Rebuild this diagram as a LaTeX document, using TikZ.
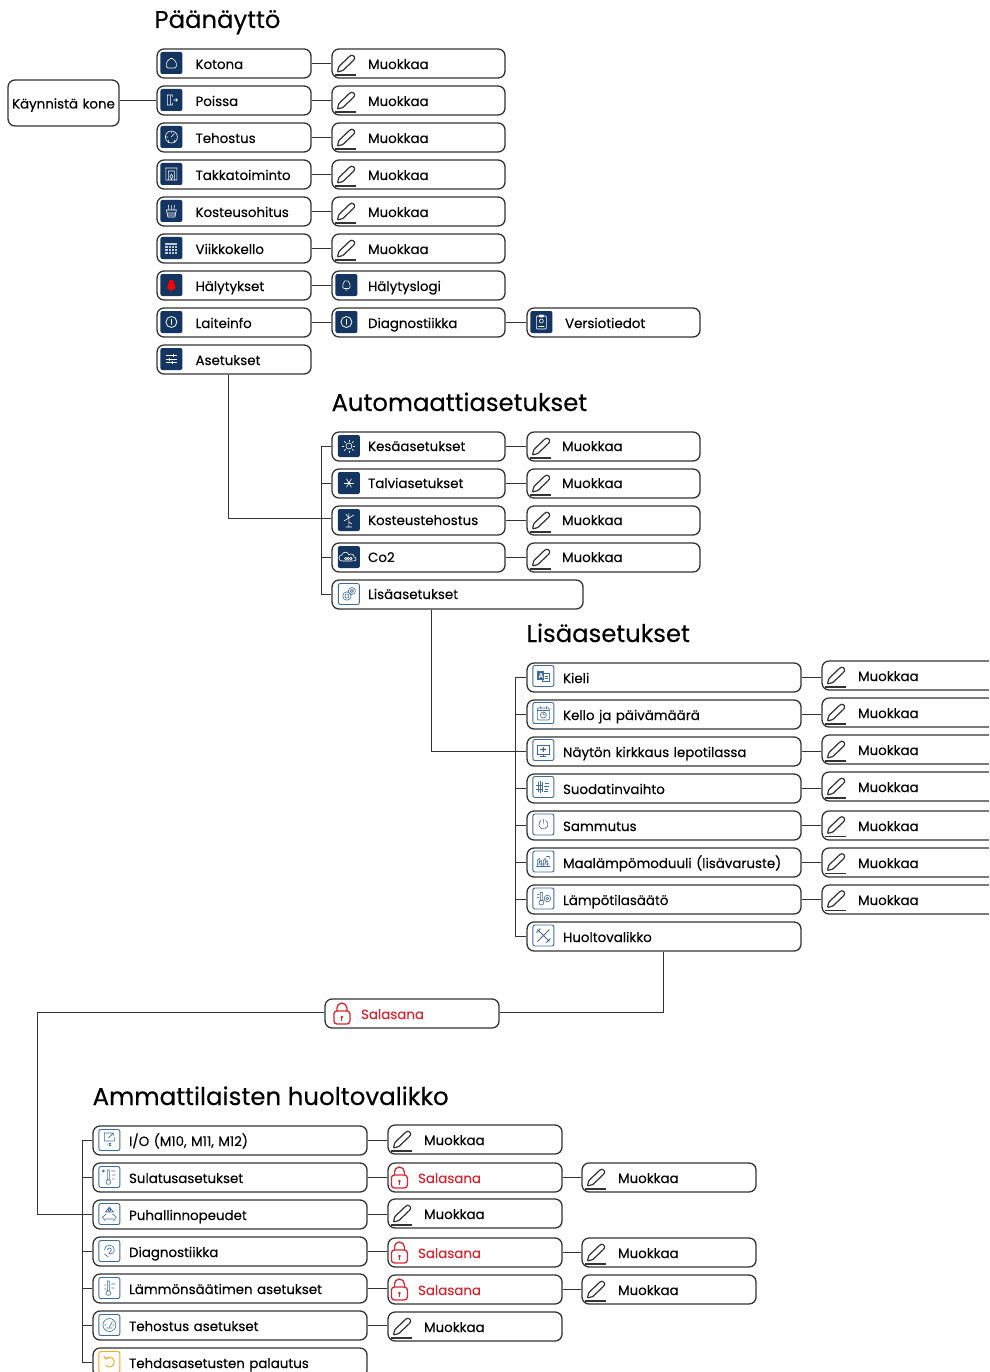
\documentclass[tikz,border=0pt]{standalone}
\usepackage{fontspec}
\setmainfont[FakeBold=0.2]{Poppins}
\definecolor{boxline}{HTML}{333335}
\definecolor{paneldark}{HTML}{14355F}
\definecolor{panelline}{HTML}{3F6A9C}
\definecolor{lockred}{HTML}{D9252F}
\definecolor{resetorange}{HTML}{F5A623}
\tikzset{
    wire/.style={draw=boxline,line width=1pt},
    item/.style 2 args={draw=boxline,line width=1.3pt,rounded corners=7,fill=white,anchor=west,inner xsep=0pt,inner ysep=0pt,
        minimum height=29,text width=#1,align=left,text height=12pt,text depth=1pt,font=\fontsize{13.4}{15}\selectfont,
        execute at begin node=\hspace*{#2}},
    raised/.style={text height=11pt,text depth=2pt},
    heading/.style={anchor=base west,inner sep=0pt,font=\fontsize{24.3}{30}\selectfont},
    darkpanel/.style={fill=paneldark,rounded corners=2,minimum size=22,inner sep=0pt},
    linepanel/.style={draw=panelline,line width=0.9pt,fill=white,rounded corners=2,minimum size=21,inner sep=0pt},
    orangepanel/.style={linepanel,draw=resetorange},
    whiteink/.style={white,line width=0.6pt},
    blueink/.style={panelline,line width=0.6pt},
    pencil/.pic={
        \draw[boxline,line width=1.2pt] (-11,11.5) -- (10,11.5);
        \draw[boxline,line width=1.2pt,rounded corners=0.8] (-9,8.5) -- (-7.5,3) -- (3.5,-7.5) -- (6,-8.5) -- (8.5,-6) -- (7.5,-3.5) -- (-3.5,7) -- cycle;
    },
    padlock/.pic={
        \draw[lockred,line width=1.3pt,rounded corners=3] (-8,-3) rectangle (8,10);
        \draw[lockred,line width=1.3pt] (-5,-3) -- (-5,-6) arc (180:360:5) -- (5,-3);
        \fill[lockred] (0,3) circle (1.4);
        \draw[lockred,line width=1pt] (0,3) -- (0,7);
    },
    house/.pic={\draw[rounded corners=1.5] (-5,5) -- (-5,-1) -- (0,-5.5) -- (5,-1) -- (5,5) -- cycle;},
    door/.pic={\draw (1,-3) -- (1,-5) -- (-4,-5) -- (-4,5) -- (1,5) -- (1,3) (-1,-4) -- (-1,5) (2,0) -- (6,0) (4.5,-1.5) -- (6,0) -- (4.5,1.5);},
    gauge/.pic={\draw (0,0) circle (6) (0,0) -- (3,-3.5) (-3.5,0) -- (-5,0) (0,-3.5) -- (0,-5) (-3,3) -- (-3,6) (3,3) -- (3,6);},
    fireplace/.pic={\draw (-5.5,-6) rectangle (5.5,6) (-3,-3) rectangle (3,6) (-6,-6) -- (6,-6) (0,5) -- (-1.5,2.5) -- (0,0) -- (1.5,2.5) -- cycle;},
    basket/.pic={\draw (-5,-1) -- (5,-1) -- (3.5,6) -- (-3.5,6) -- cycle (-2.5,-1) -- (-3,-6) (0,-1) -- (0,-6) (2.5,-1) -- (3,-6) (-4,2) -- (4,2) (-3.7,4) -- (3.7,4);},
    calendar/.pic={\fill[opacity=0.75] (-6,-5) rectangle (6,6); \draw[paneldark] (-6,-2.5) -- (6,-2.5) (-6,0.5) -- (6,0.5) (-6,3) -- (6,3) (-3,-2.5) -- (-3,6) (0,-2.5) -- (0,6) (3,-2.5) -- (3,6);},
    bell/.pic={\draw[rounded corners=1.5] (-4,3.5) -- (-3,-3) -- (0,-5) -- (3,-3) -- (4,3.5) -- cycle (-1,5) -- (1,5);},
    redbell/.pic={\fill[red,rounded corners=1] (-4.5,4) -- (-3,-1) -- (-2,-5) -- (2,-5) -- (3,-1) -- (4.5,4) -- cycle; \fill[red] (0,5) circle (1.5);},
    infosign/.pic={\draw[line width=0.8pt] (0,0) circle (5.5) (0,-3) -- (0,2.5);},
    sliders/.pic={\draw (-5.5,-3.5) -- (5.5,-3.5) (-5.5,0) -- (5.5,0) (-5.5,3.5) -- (5.5,3.5) (2,-5) -- (2,-2) (-2,-1.5) -- (-2,1.5) (1,2) -- (1,5);},
    sun/.pic={\draw (0,0) circle (3); \foreach \a in {0,45,...,315} {\draw (\a:4.5) -- (\a:6.5);}},
    snowflake/.pic={\foreach \a in {0,60,120} {\draw (\a:5) -- (\a+180:5);} \fill (0,0) circle (1.5);},
    fan/.pic={\draw (0,-7) -- (0,7) (-3,7) -- (3,7) (0,-2) -- (-5,1) (0,-2) -- (5,-5) (0,-2) -- (-3,-6) (0,2) -- (3,4);},
    cloud/.pic={\draw (-7,4) arc (90:270:3) arc (190:350:3.5) arc (220:360:3) arc (270:450:2) -- cycle (-3.2,1.5) circle (1.2) (-0.6,1.5) circle (1.2) (2,1.5) circle (1.2);},
    gears/.pic={\draw (-2,2) circle (4.2) (-2,2) circle (2) (3,-3) circle (3.5) (3,-3) circle (1.5);},
    language/.pic={\fill (-6,-5) rectangle (1,4); \draw (1,-3) -- (6,-3) -- (6,5) -- (-1,5) -- (-1,4) (2,0) -- (5,0) (2,2) -- (5,2); \node[white,font=\fontsize{7}{7}\selectfont] (langa) at (-2.5,-0.5) {A};},
    clipperson/.pic={\draw[rounded corners=1] (-5,-6) rectangle (5,7) (-2.5,-7) rectangle (2.5,-5) (0,-1) circle (2) (-3,4.5) -- (3,4.5);},
    clockdate/.pic={\draw[rounded corners=1] (-6,-5) rectangle (6,7) (-6,-2.5) -- (6,-2.5) (-3,-7) -- (-3,-4) (3,-7) -- (3,-4) (0,2) circle (3) (0,0) -- (0,2) -- (1.5,2);},
    monitor/.pic={\draw (-6,-5) rectangle (6,4) (-3,6) -- (3,6) (0,4) -- (0,6); \fill (0,-0.5) circle (1.7); \draw (-3,-0.5) -- (3,-0.5) (0,-3) -- (0,2);},
    filterpack/.pic={\draw (-5,-5) -- (-5,5) (-3,-6) -- (-3,6) (-1,-5) -- (-1,5) (-7,-2) -- (0,-2) (-7,2) -- (0,2) (2,-4) -- (6,-4) (1,-1) -- (6,-1) (2,2) -- (5,2) (1,4) -- (5,4);},
    powersign/.pic={\draw (2.3,-4) arc (300:600:4.6) (0,-6) -- (0,-1);},
    heatunit/.pic={\draw (-7,5) -- (7,5) (-6,5) -- (-6,-1) -- (-4,-3) -- (-4,1) -- (-2,-1) -- (-2,5) (0,5) -- (0,-1) -- (2,-3) -- (2,1) -- (4,-1) -- (4,5) (-6,2.5) -- (6,2.5) (3,-5) -- (6,-5) -- (6,-3);},
    thermogear/.pic={\draw (-3,-6) rectangle (-1,2) (-2,4) circle (2.5) (-6,-4) -- (-4,-4) (-6,-1) -- (-4,-1) (4,0) circle (3.3) (4,0) circle (1.3);},
    tools/.pic={\draw[line width=0.9pt] (-6,-6) -- (6,6) (6,-6) -- (-6,6) (-7,-3) -- (-3,-7) (3,7) -- (7,3);},
    export/.pic={\draw (-5,-1) -- (-5,-7) -- (1,-7) (5,-3) -- (5,1) -- (-5,1) -- (-5,-1) (-1,-2) -- (4,-7) (1,-7) -- (4,-7) -- (4,-4) (-1.5,5.5) -- (-1.5,3.5) (0,3.5) rectangle (1.5,5.5);},
    thermocold/.pic={\draw (-2,-7) rectangle (0,3) (-1,5) circle (2.4) (2,-6) -- (6,-6) (3,-2) -- (6,-2) (3,2) -- (5,2) (-6,-6) circle (1);},
    blower/.pic={\draw (0,-7) -- (-4,-2) -- (4,-2) -- cycle (-7,3) -- (-4,7) (7,3) -- (4,7) (-7,3) -- (-3,0) (7,3) -- (3,0) (-4,5) -- (4,5) (0,-4) circle (1.5);},
    earshape/.pic={\draw (-5,-1) arc (180:360:5) arc (0:120:4) (-1,6) -- (-5,3) (-2,-1) arc (180:360:2) -- (0,2);},
    thermoflake/.pic={\draw (-2,-7) rectangle (0,3) (-1,5) circle (2.4) (-5,-3) -- (-3,-3) (-5,1) -- (-3,1) (2,-4) -- (6,-4) (2,0) -- (5,0);},
    speedgauge/.pic={\draw (0,0) circle (6.5) (0,2) -- (3,-3.5) (-3,3) -- (3,3) (-5,0) -- (-3,0) (5,0) -- (3,0);},
    undoarrow/.pic={\draw[line width=0.9pt] (-4,-3) arc (217:500:5) (-5.5,-6) -- (-4,-3) -- (-1,-3.5);}
}
\begin{document}
\begin{tikzpicture}[x=1pt,y=-1pt]
    \path[use as bounding box,clip] (0.6,0) rectangle (989.6,1372);
    \fill[white] (0,0) rectangle (990,1372);

    % Paanaytto
    \node[heading] (mainhead) at (155,28) {Päänäyttö};
    \node[item={111pt}{4pt},minimum height=46] (start) at (8,103) {Käynnistä kone};
    \node[item={154pt}{38.5pt}] (kotona) at (157,63.5) {Kotona};
    \node[item={154pt}{38.5pt}] (poissa) at (157,100.5) {Poissa};
    \node[item={154pt}{38.5pt}] (tehostus) at (157,137.5) {Tehostus};
    \node[item={154pt}{38.5pt}] (takka) at (157,174.5) {Takkatoiminto};
    \node[item={154pt}{38.5pt}] (kosteus) at (157,211.5) {Kosteusohitus};
    \node[item={154pt}{38.5pt}] (viikko) at (157,248.5) {Viikkokello};
    \node[item={154pt}{38.5pt}] (halytys) at (157,285.5) {Hälytykset};
    \node[item={154pt}{38.5pt}] (laite) at (157,322.5) {Laiteinfo};
    \node[item={154pt}{38.5pt}] (asetukset) at (157,359.5) {Asetukset};
    \node[item={173pt}{36pt}] (kotonaedit) at (332,63.5) {Muokkaa};
    \node[item={173pt}{36pt}] (poissaedit) at (332,100.5) {Muokkaa};
    \node[item={173pt}{36pt}] (tehostusedit) at (332,137.5) {Muokkaa};
    \node[item={173pt}{36pt}] (takkaedit) at (332,174.5) {Muokkaa};
    \node[item={173pt}{36pt}] (kosteusedit) at (332,211.5) {Muokkaa};
    \node[item={173pt}{36pt}] (viikkoedit) at (332,248.5) {Muokkaa};
    \node[item={173pt}{36pt}] (halytyslogi) at (332,285.5) {Hälytyslogi};
    \node[item={173pt}{36pt}] (diagnostiikka) at (332,322.5) {Diagnostiikka};
    \node[item={173pt}{38pt}] (versio) at (527,322.5) {Versiotiedot};
    \draw[wire] (poissa -| start.east) -- (poissa);
    \draw[wire] (kotona) -- (kotonaedit);
    \draw[wire] (poissa) -- (poissaedit);
    \draw[wire] (tehostus) -- (tehostusedit);
    \draw[wire] (takka) -- (takkaedit);
    \draw[wire] (kosteus) -- (kosteusedit);
    \draw[wire] (viikko) -- (viikkoedit);
    \draw[wire] (halytys) -- (halytyslogi);
    \draw[wire] (laite) -- (diagnostiikka);
    \draw[wire] (diagnostiikka) -- (versio);

    \node[darkpanel] (kotonaicon) at (172,63) {}; \pic[whiteink] at (kotonaicon) {house};
    \node[darkpanel] (poissaicon) at (172,100) {}; \pic[whiteink] at (poissaicon) {door};
    \node[darkpanel] (tehostusicon) at (172,137) {}; \pic[whiteink] at (tehostusicon) {gauge};
    \node[darkpanel] (takkaicon) at (172,174) {}; \pic[whiteink] at (takkaicon) {fireplace};
    \node[darkpanel] (kosteusicon) at (172,211) {}; \pic[whiteink] at (kosteusicon) {basket};
    \node[darkpanel] (viikkoicon) at (172,248) {}; \pic[whiteink] at (viikkoicon) {calendar};
    \node[darkpanel] (halytysicon) at (172,285) {}; \pic at (halytysicon) {redbell};
    \node[darkpanel] (laiteicon) at (172,322) {}; \pic[whiteink] at (laiteicon) {infosign};
    \node[darkpanel] (asetusicon) at (172,359) {}; \pic[whiteink] at (asetusicon) {sliders};
    \node[darkpanel] (logiicon) at (347,285) {}; \pic[whiteink] at (logiicon) {bell};
    \node[darkpanel] (diagicon) at (347,322) {}; \pic[whiteink] at (diagicon) {infosign};
    \node[darkpanel] (versioicon) at (542,322) {}; \pic[whiteink] at (versioicon) {clipperson};
    \pic at (347,63.5) {pencil};
    \pic at (347,100.5) {pencil};
    \pic at (347,137.5) {pencil};
    \pic at (347,174.5) {pencil};
    \pic at (347,211.5) {pencil};
    \pic at (347,248.5) {pencil};

    % Automaattiasetukset
    \node[heading] (autohead) at (332,411) {Automaattiasetukset};
    \node[item={173pt}{36pt},raised] (kesa) at (332,446.5) {Kesäasetukset};
    \node[item={173pt}{36pt},raised] (talvi) at (332,483.5) {Talviasetukset};
    \node[item={173pt}{36pt},raised] (kostehostus) at (332,520.5) {Kosteustehostus};
    \node[item={173pt}{36pt},raised] (co) at (332,557.5) {Co2};
    \node[item={251pt}{36pt},raised] (lisaasetukset) at (332,594.5) {Lisäasetukset};
    \node[item={173pt}{35pt},raised] (kesaedit) at (527,446.5) {Muokkaa};
    \node[item={173pt}{35pt},raised] (talviedit) at (527,483.5) {Muokkaa};
    \node[item={173pt}{35pt},raised] (kostehostusedit) at (527,520.5) {Muokkaa};
    \node[item={173pt}{35pt},raised] (coedit) at (527,557.5) {Muokkaa};
    \coordinate (autobus) at (322,447);
    \coordinate (autodrop) at (229,518);
    \draw[wire] (kesa.west) -- (kesa.west -| autobus) |- (lisaasetukset.west);
    \draw[wire] (talvi.west) -- (talvi.west -| autobus);
    \draw[wire] (co.west) -- (co.west -| autobus);
    \draw[wire] (autodrop |- asetukset.south) |- (autodrop -| kostehostus.west);
    \draw[wire] (kesa) -- (kesaedit);
    \draw[wire] (talvi) -- (talviedit);
    \draw[wire] (kostehostus) -- (kostehostusedit);
    \draw[wire] (co) -- (coedit);

    \node[darkpanel] (kesaicon) at (349.5,446) {}; \pic[whiteink] at (kesaicon) {sun};
    \node[darkpanel] (talviicon) at (349.5,483) {}; \pic[whiteink] at (talviicon) {snowflake};
    \node[darkpanel] (kostehostusicon) at (349.5,520) {}; \pic[whiteink] at (kostehostusicon) {fan};
    \node[darkpanel] (coicon) at (349.5,557) {}; \pic[whiteink] at (coicon) {cloud};
    \node[linepanel] (lisaicon) at (349.5,594) {}; \pic[blueink] at (lisaicon) {gears};
    \pic at (542,446.5) {pencil};
    \pic at (542,483.5) {pencil};
    \pic at (542,520.5) {pencil};
    \pic at (542,557.5) {pencil};

    % Lisaasetukset
    \node[heading] (morehead) at (527,642) {Lisäasetukset};
    \node[item={274pt}{36pt}] (kieli) at (527,677.5) {Kieli};
    \node[item={274pt}{36pt}] (kello) at (527,714.5) {Kello ja päivämäärä};
    \node[item={274pt}{36pt}] (naytto) at (527,751.5) {Näytön kirkkaus lepotilassa};
    \node[item={274pt}{36pt}] (suodatin) at (527,788.5) {Suodatinvaihto};
    \node[item={274pt}{36pt}] (sammutus) at (527,825.5) {Sammutus};
    \node[item={274pt}{36pt}] (maalampo) at (527,862.5) {Maalämpömoduuli (lisävaruste)};
    \node[item={274pt}{36pt}] (lampotila) at (527,899.5) {Lämpötilasäätö};
    \node[item={274pt}{36pt}] (huolto) at (527,936.5) {Huoltovalikko};
    \node[item={174pt}{36pt}] (kieliedit) at (822,675.5) {Muokkaa};
    \node[item={174pt}{36pt}] (kelloedit) at (822,712.5) {Muokkaa};
    \node[item={174pt}{36pt}] (nayttoedit) at (822,749.5) {Muokkaa};
    \node[item={174pt}{36pt}] (suodatinedit) at (822,786.5) {Muokkaa};
    \node[item={174pt}{36pt}] (sammutusedit) at (822,825.5) {Muokkaa};
    \node[item={174pt}{36pt}] (maalampoedit) at (822,862.5) {Muokkaa};
    \node[item={174pt}{36pt}] (lampotilaedit) at (822,899.5) {Muokkaa};
    \coordinate (morebus) at (516,678);
    \coordinate (moredrop) at (432,751);
    \draw[wire] (kieli.west) -- (kieli.west -| morebus) |- (huolto.west);
    \draw[wire] (kello.west) -- (kello.west -| morebus);
    \draw[wire] (suodatin.west) -- (suodatin.west -| morebus);
    \draw[wire] (sammutus.west) -- (sammutus.west -| morebus);
    \draw[wire] (maalampo.west) -- (maalampo.west -| morebus);
    \draw[wire] (lampotila.west) -- (lampotila.west -| morebus);
    \draw[wire] (moredrop |- lisaasetukset.south) |- (moredrop -| naytto.west);
    \draw[wire] (kieli) -- (kieli -| kieliedit.west);
    \draw[wire] (kello) -- (kello -| kelloedit.west);
    \draw[wire] (naytto) -- (naytto -| nayttoedit.west);
    \draw[wire] (suodatin) -- (suodatin -| suodatinedit.west);
    \draw[wire] (sammutus) -- (sammutusedit);
    \draw[wire] (maalampo) -- (maalampoedit);
    \draw[wire] (lampotila) -- (lampotilaedit);

    \node[linepanel] (kieliicon) at (544,676) {}; \pic[blueink] at (kieliicon) {language};
    \node[linepanel] (kelloicon) at (544,713) {}; \pic[blueink] at (kelloicon) {clockdate};
    \node[linepanel] (nayttoicon) at (544,750) {}; \pic[blueink] at (nayttoicon) {monitor};
    \node[linepanel] (suodatinicon) at (544,787) {}; \pic[blueink] at (suodatinicon) {filterpack};
    \node[linepanel] (sammutusicon) at (544,824.5) {}; \pic[blueink] at (sammutusicon) {powersign};
    \node[linepanel] (maalampoicon) at (544,861.5) {}; \pic[blueink] at (maalampoicon) {heatunit};
    \node[linepanel] (lampotilaicon) at (544,898.5) {}; \pic[blueink] at (lampotilaicon) {thermogear};
    \node[linepanel] (huoltoicon) at (544,935.5) {}; \pic[blueink] at (huoltoicon) {tools};
    \pic at (837,675.5) {pencil};
    \pic at (837,712.5) {pencil};
    \pic at (837,749.5) {pencil};
    \pic at (837,786.5) {pencil};
    \pic at (837,825) {pencil};
    \pic at (837,862) {pencil};
    \pic at (837,899) {pencil};

    % Salasana
    \node[item={174pt}{36pt},text=lockred] (password) at (325,1013.5) {Salasana};
    \coordinate (passdrop) at (664,1012);
    \coordinate (servicebus) at (38,1214);
    \draw[wire] (passdrop |- huolto.south) -- (passdrop) -- (passdrop -| password.east);
    \pic at (342.5,1014) {padlock};

    % Ammattilaisten huoltovalikko
    \node[heading,font=\fontsize{24.5}{30}\selectfont] (servicehead) at (93,1105) {Ammattilaisten huoltovalikko};
    \node[item={274pt}{36pt}] (io) at (93,1140.5) {I/O (M10, M11, M12)};
    \node[item={274pt}{36pt}] (sulatus) at (93,1177.5) {Sulatusasetukset};
    \node[item={274pt}{36pt}] (puhallin) at (93,1214.5) {Puhallinnopeudet};
    \node[item={274pt}{36pt}] (diagnostics) at (93,1251.5) {Diagnostiikka};
    \node[item={274pt}{36pt}] (lammon) at (93,1288.5) {Lämmönsäätimen asetukset};
    \node[item={274pt}{36pt}] (tehoset) at (93,1325.5) {Tehostus asetukset};
    \node[item={274pt}{36pt}] (palautus) at (93,1362.5) {Tehdasasetusten palautus};
    \node[item={174pt}{36pt}] (ioedit) at (388,1139.5) {Muokkaa};
    \node[item={174pt}{30pt},text=lockred] (sulatuspass) at (388,1177.5) {Salasana};
    \node[item={174pt}{36pt}] (puhallinedit) at (388,1213.5) {Muokkaa};
    \node[item={174pt}{30pt},text=lockred] (diagnosticspass) at (388,1252.5) {Salasana};
    \node[item={174pt}{30pt},text=lockred] (lammonpass) at (388,1289.5) {Salasana};
    \node[item={174pt}{36pt}] (tehosetedit) at (388,1326.5) {Muokkaa};
    \node[item={174pt}{36pt}] (sulatusedit) at (582,1177.5) {Muokkaa};
    \node[item={174pt}{36pt}] (diagnosticsedit) at (582,1252.5) {Muokkaa};
    \node[item={174pt}{36pt}] (lammonedit) at (582,1289.5) {Muokkaa};
    \coordinate (servicerail) at (83,1141);
    \draw[wire] (passdrop -| password.west) -| (servicebus) -- (servicebus -| puhallin.west);
    \draw[wire] (io.west) -- (io.west -| servicerail) |- (palautus.west);
    \draw[wire] (sulatus.west) -- (sulatus.west -| servicerail);
    \draw[wire] (diagnostics.west) -- (diagnostics.west -| servicerail);
    \draw[wire] (lammon.west) -- (lammon.west -| servicerail);
    \draw[wire] (tehoset.west) -- (tehoset.west -| servicerail);
    \draw[wire] (io) -- (io -| ioedit.west);
    \draw[wire] (sulatus) -- (sulatuspass);
    \draw[wire] (puhallin) -- (puhallin -| puhallinedit.west);
    \draw[wire] (diagnostics) -- (diagnostics -| diagnosticspass.west);
    \draw[wire] (lammon) -- (lammon -| lammonpass.west);
    \draw[wire] (tehoset) -- (tehoset -| tehosetedit.west);
    \draw[wire] (sulatuspass) -- (sulatusedit);
    \draw[wire] (diagnosticspass) -- (diagnosticsedit);
    \draw[wire] (lammonpass) -- (lammonedit);

    \node[linepanel] (ioicon) at (110,1140) {}; \pic[blueink] at (ioicon) {export};
    \node[linepanel] (sulatusicon) at (110,1177) {}; \pic[blueink] at (sulatusicon) {thermocold};
    \node[linepanel] (puhallinicon) at (110,1214) {}; \pic[blueink] at (puhallinicon) {blower};
    \node[linepanel] (diagnosticsicon) at (110,1251) {}; \pic[blueink] at (diagnosticsicon) {earshape};
    \node[linepanel] (lammonicon) at (110,1288) {}; \pic[blueink] at (lammonicon) {thermoflake};
    \node[linepanel] (tehoseticon) at (110,1325) {}; \pic[blueink] at (tehoseticon) {speedgauge};
    \node[orangepanel] (palautusicon) at (110,1362) {}; \pic[resetorange,line width=0.8pt] at (palautusicon) {undoarrow};
    \pic at (403,1139.5) {pencil};
    \pic at (400,1178) {padlock};
    \pic at (403,1213.5) {pencil};
    \pic at (400,1253) {padlock};
    \pic at (400,1290) {padlock};
    \pic at (403,1326.5) {pencil};
    \pic at (597,1177.5) {pencil};
    \pic at (597,1252.5) {pencil};
    \pic at (597,1289.5) {pencil};
\end{tikzpicture}
\end{document}
